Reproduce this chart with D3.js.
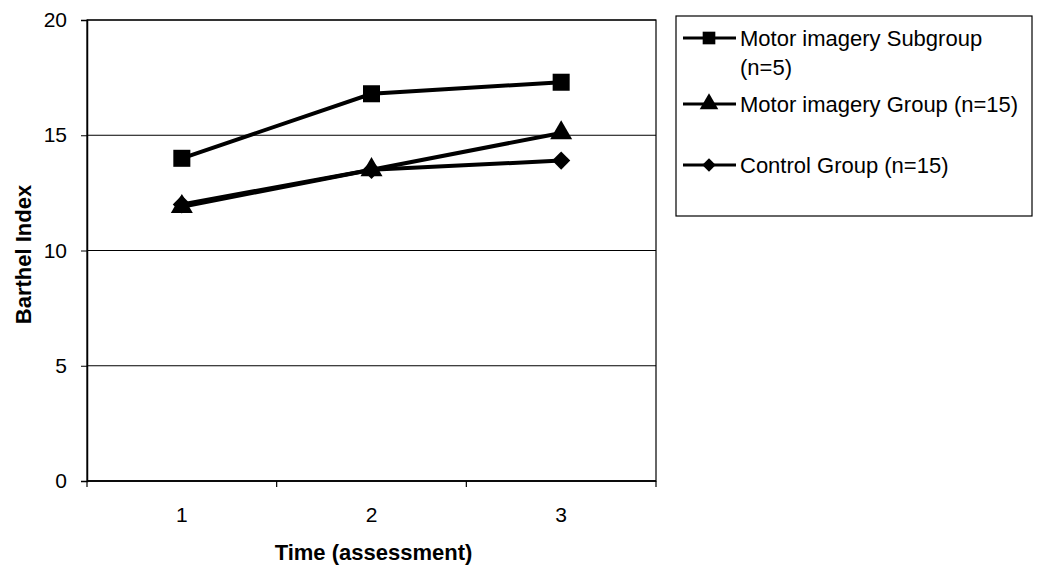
<!DOCTYPE html>
<html lang="en">
<head>
  <meta charset="UTF-8">
  <title>Barthel Index over time</title>
  <script src="https://d3js.org/d3.v7.min.js"></script>
  <style>
    body { margin: 0; background: #fff; font-family: "Liberation Sans", Arial, sans-serif; }
    svg { display: block; }
    text { fill: #000; font-family: "Liberation Sans", Arial, sans-serif; }
    .tick text { font-size: 21px; }
    .axis-title { font-size: 22px; font-weight: bold; }
    .legend text { font-size: 22px; }
  </style>
</head>
<body>
  <svg id="chart"></svg>
  <script>
    const times = [1, 2, 3];
    const yTicks = [0, 5, 10, 15, 20];
    const seriesNames = [
      ["Motor imagery Subgroup", "(n=5)"],
      ["Motor imagery Group (n=15)"],
      ["Control Group (n=15)"]
    ];
    const subgroupValues = [14.0, 16.8, 17.3];
    const groupValues = [11.9, 13.5, 15.1];
    const controlValues = [12.0, 13.5, 13.9];

    const width = 1039, height = 571;
    const plot = { left: 87, right: 656, top: 20, bottom: 481 };

    const svg = d3.select("#chart").attr("width", width).attr("height", height);

    const x = d3.scaleBand().domain(times).range([plot.left, plot.right]);
    const y = d3.scaleLinear().domain([0, 20]).range([plot.bottom, plot.top]);

    // gridlines
    svg.append("g")
      .selectAll("line")
      .data(yTicks)
      .join("line")
      .attr("x1", plot.left).attr("x2", plot.right)
      .attr("y1", d => y(d)).attr("y2", d => y(d))
      .attr("stroke", "#000").attr("stroke-width", 1);

    // plot border
    svg.append("rect")
      .attr("x", plot.left).attr("y", plot.top)
      .attr("width", plot.right - plot.left).attr("height", plot.bottom - plot.top)
      .attr("fill", "none").attr("stroke", "#000").attr("stroke-width", 1.2);

    // y axis
    const yAxis = svg.append("g")
      .attr("transform", `translate(${plot.left},0)`)
      .call(d3.axisLeft(y).tickValues(yTicks).tickSize(6).tickPadding(14));
    yAxis.select(".domain").attr("stroke-width", 1.5);

    // x axis: ticks on band boundaries, labels at centers
    const xAxis = svg.append("g").attr("transform", `translate(0,${plot.bottom})`);
    xAxis.append("line")
      .attr("x1", plot.left).attr("x2", plot.right)
      .attr("stroke", "#000").attr("stroke-width", 1.5);
    const bounds = times.map(t => x(t)).concat([plot.right]);
    xAxis.selectAll("line.tk")
      .data(bounds)
      .join("line")
      .attr("class", "tk")
      .attr("x1", d => d).attr("x2", d => d)
      .attr("y1", 0).attr("y2", 6)
      .attr("stroke", "#000").attr("stroke-width", 1.2);
    xAxis.selectAll("text")
      .data(times)
      .join("text")
      .attr("x", d => x(d) + x.bandwidth() / 2)
      .attr("y", 41)
      .attr("text-anchor", "middle")
      .attr("font-size", 21)
      .text(d => d);

    // axis titles
    svg.append("text")
      .attr("class", "axis-title")
      .attr("x", (plot.left + plot.right) / 2 + 2)
      .attr("y", 560)
      .attr("text-anchor", "middle")
      .text("Time (assessment)");
    svg.append("text")
      .attr("class", "axis-title")
      .attr("transform", `translate(31,${(plot.top + plot.bottom) / 2 + 4}) rotate(-90)`)
      .attr("text-anchor", "middle")
      .text("Barthel Index");

    const symbols = [
      d3.symbol().type(d3.symbolSquare).size(290),
      d3.symbol().type(d3.symbolTriangle).size(210),
      d3.symbol().type(d3.symbolSquare).size(165)
    ];
    const rot = [0, 0, 45];
    const allValues = [subgroupValues, groupValues, controlValues];

    const line = d3.line()
      .x((d, i) => x(times[i]) + x.bandwidth() / 2)
      .y(d => y(d));

    // draw control first, then group, then subgroup
    [2, 1, 0].forEach(s => {
      const vals = allValues[s];
      svg.append("path")
        .datum(vals)
        .attr("d", line)
        .attr("fill", "none")
        .attr("stroke", "#000")
        .attr("stroke-width", 4);
      svg.append("g")
        .selectAll("path")
        .data(vals)
        .join("path")
        .attr("transform", (d, i) => `translate(${x(times[i]) + x.bandwidth() / 2},${y(d)}) rotate(${rot[s]})`)
        .attr("d", symbols[s])
        .attr("fill", "#000");
    });

    // legend
    const legend = svg.append("g").attr("class", "legend");
    legend.append("rect")
      .attr("x", 676).attr("y", 16)
      .attr("width", 356).attr("height", 200)
      .attr("fill", "none").attr("stroke", "#000").attr("stroke-width", 1.2);
    const legendY = [38, 104, 165];
    const legendSym = [
      d3.symbol().type(d3.symbolSquare).size(160),
      d3.symbol().type(d3.symbolTriangle).size(150),
      d3.symbol().type(d3.symbolSquare).size(90)
    ];
    seriesNames.forEach((lines, i) => {
      const g = legend.append("g").attr("transform", `translate(0,${legendY[i]})`);
      g.append("line")
        .attr("x1", 683).attr("x2", 736)
        .attr("stroke", "#000").attr("stroke-width", 3);
      g.append("path")
        .attr("transform", `translate(709,0) rotate(${rot[i]})`)
        .attr("d", legendSym[i])
        .attr("fill", "#000");
      lines.forEach((t, j) => {
        g.append("text")
          .attr("x", 740)
          .attr("y", 8 + j * 29)
          .text(t);
      });
    });
  </script>
</body>
</html>
